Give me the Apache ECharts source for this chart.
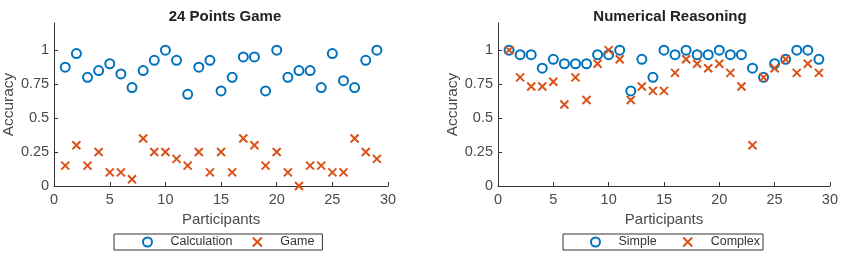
<!DOCTYPE html>
<html>
<head>
<meta charset="utf-8">
<script src="https://cdn.jsdelivr.net/npm/echarts@6/dist/echarts.min.js"></script>
<style>
html,body{margin:0;padding:0;background:#fff;}
#c{width:841px;height:258px;}
</style>
</head>
<body>
<div id="c"></div>
<script>
const participants = [1,2,3,4,5,6,7,8,9,10,11,12,13,14,15,16,17,18,19,20,21,22,23,24,25,26,27,28,29];
const calculation = [0.875,0.975,0.8,0.85,0.9,0.825,0.725,0.85,0.925,1.0,0.925,0.675,0.875,0.925,0.7,0.8,0.95,0.95,0.7,1.0,0.8,0.85,0.85,0.725,0.975,0.775,0.725,0.925,1.0];
const game = [0.15,0.3,0.15,0.25,0.1,0.1,0.05,0.35,0.25,0.25,0.2,0.15,0.25,0.1,0.25,0.1,0.35,0.3,0.15,0.25,0.1,0.0,0.15,0.15,0.1,0.1,0.35,0.25,0.2];
const simple = [1.0,0.967,0.967,0.867,0.933,0.9,0.9,0.9,0.967,0.967,1.0,0.7,0.933,0.8,1.0,0.967,1.0,0.967,0.967,1.0,0.967,0.967,0.867,0.8,0.9,0.933,1.0,1.0,0.933];
const complex = [1.0,0.8,0.733,0.733,0.767,0.6,0.8,0.633,0.9,1.0,0.933,0.633,0.733,0.7,0.7,0.833,0.933,0.9,0.867,0.9,0.833,0.733,0.3,0.8,0.867,0.933,0.833,0.9,0.833];
const yTicks = [0,0.25,0.5,0.75,1];
const titles = ['24 Points Game','Numerical Reasoning'];
const legendNames = [['Calculation','Game'],['Simple','Complex']];

const BLUE = '#0072BD', ORANGE = '#D95319', TXT = '#4a4a4a', AX = '#333333';
const FONT = 'Liberation Sans, Arial, sans-serif';
const XPATH = 'path://M0,0L10,10M0,10L10,0';

const grids = [
  {left: 52, top: 23, width: 336, height: 163},
  {left: 498, top: 23, width: 334, height: 163}
];

function xAxis(i){
  return {
    gridIndex: i, type: 'value', min: 0, max: 30, interval: 5,
    name: 'Participants', nameLocation: 'middle', nameGap: 17,
    nameTextStyle: {color: TXT, fontSize: 15, fontFamily: FONT},
    axisLine: {lineStyle: {color: AX, width: 1}},
    axisTick: {inside: true, length: 4, lineStyle: {color: AX}},
    axisLabel: {color: TXT, fontSize: 14.5, fontFamily: FONT, margin: 6},
    splitLine: {show: false}
  };
}
function yAxis(i){
  return {
    gridIndex: i, type: 'value', min: 0, max: 1.2,
    name: 'Accuracy', nameLocation: 'middle', nameGap: 35,
    nameTextStyle: {color: TXT, fontSize: 15.5, fontFamily: FONT},
    axisLine: {show: true, lineStyle: {color: AX, width: 1}},
    axisTick: {show: true, inside: true, length: 4, lineStyle: {color: AX}, customValues: yTicks},
    axisLabel: {color: TXT, fontSize: 14.5, fontFamily: FONT, margin: 5, customValues: yTicks},
    splitLine: {show: false}
  };
}
function circleSeries(name, vals, i){
  return {
    name: name, type: 'scatter', xAxisIndex: i, yAxisIndex: i,
    data: participants.map((p,k)=>[p, vals[k]]),
    symbol: 'circle', symbolSize: 9,
    itemStyle: {color: 'rgba(0,0,0,0)', borderColor: BLUE, borderWidth: 2, opacity: 1},
    emphasis: {disabled: true}, z: 2
  };
}
function crossSeries(name, vals, i){
  return {
    name: name, type: 'scatter', xAxisIndex: i, yAxisIndex: i,
    data: participants.map((p,k)=>[p, vals[k]]),
    symbol: XPATH, symbolSize: 8,
    itemStyle: {color: 'none', borderColor: ORANGE, borderWidth: 2, opacity: 1},
    emphasis: {disabled: true}, z: 3
  };
}

const legendPos = [
  {left: 114, top: 234, padding: [1,8,1,28], itemGap: 18},
  {left: 563, top: 234, padding: [1,3,1,27], itemGap: 24}
];

const option = {
  animation: false,
  backgroundColor: '#fff',
  title: titles.map((t,i)=>({
    text: t, left: grids[i].left + grids[i].width/2, top: 4, textAlign: 'center',
    textStyle: {fontSize: 15, fontWeight: 'bold', color: '#222', fontFamily: FONT}
  })),
  grid: grids,
  xAxis: [xAxis(0), xAxis(1)],
  yAxis: [yAxis(0), yAxis(1)],
  legend: legendPos.map((lp,i)=>({
    left: lp.left, top: lp.top, padding: lp.padding, itemGap: lp.itemGap,
    orient: 'horizontal', itemWidth: 36, itemHeight: 9,
    borderColor: '#333', borderWidth: 1, borderRadius: 0,
    textStyle: {color: '#333', fontSize: 12.5, fontFamily: FONT},
    data: legendNames[i], selectedMode: false
  })),
  series: [
    circleSeries(legendNames[0][0], calculation, 0),
    crossSeries(legendNames[0][1], game, 0),
    circleSeries(legendNames[1][0], simple, 1),
    crossSeries(legendNames[1][1], complex, 1)
  ]
};
const chart = echarts.init(document.getElementById('c'), null, {renderer: 'canvas'});
chart.setOption(option);
</script>
</body>
</html>
